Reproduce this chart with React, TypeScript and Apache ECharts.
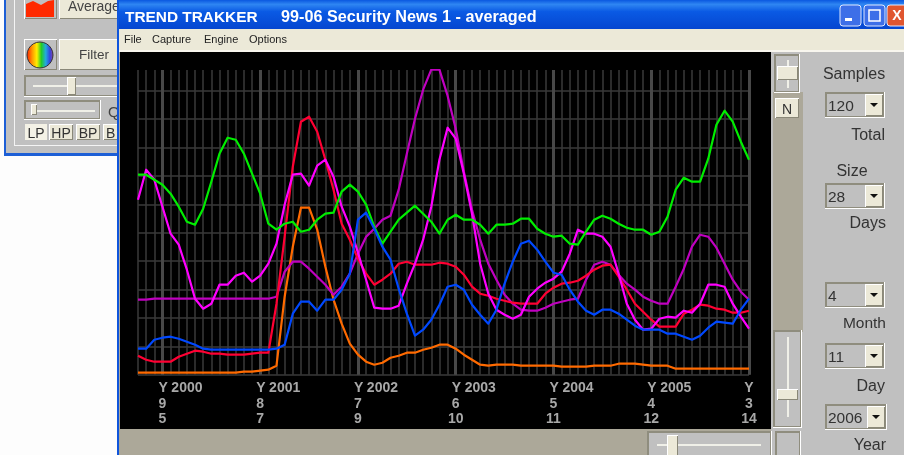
import React, { useEffect, useRef } from "react";
import * as echarts from "echarts";

const sampleCount = 76;
const yearLabels = ["Y 2000", "Y 2001", "Y 2002", "Y 2003", "Y 2004", "Y 2005", "Y"];
const monthLabels = ["9", "8", "7", "6", "5", "4", "3"];
const dayLabels = ["5", "7", "9", "10", "11", "12", "14"];

const green = [200,200,195,190,181,168,153,150,166,193,221,237,235,221,201,181,151,145,151,153,143,145,155,161,162,183,190,183,170,148,131,143,155,162,169,161,153,141,155,160,155,155,150,141,150,150,151,156,156,146,141,138,139,131,130,143,155,159,156,151,147,145,145,140,143,158,185,197,193,193,216,250,264,253,233,215];
const red = [19,15,13,13,13,18,21,24,23,21,21,20,20,20,21,22,22,71,138,208,253,258,243,215,185,151,135,116,101,90,95,101,111,113,110,110,110,112,111,108,100,88,81,79,76,74,72,71,71,71,81,87,91,92,94,99,105,109,110,98,85,71,63,55,48,48,48,61,65,70,69,66,65,62,62,64];
const magenta = [175,205,195,168,141,130,105,76,66,71,90,90,99,102,93,99,111,131,170,200,201,189,209,215,198,168,148,122,95,67,66,66,69,91,111,135,168,215,247,236,201,161,111,81,65,60,56,60,78,86,92,96,103,121,145,141,141,138,128,101,71,55,45,46,56,58,57,64,62,71,90,90,88,71,58,46];
const purple = [75,75,76,76,76,76,76,76,76,76,76,76,76,76,76,76,76,78,103,113,113,106,98,90,80,88,101,121,138,146,155,159,185,221,256,285,305,305,279,246,203,165,135,111,95,80,71,65,64,64,67,71,73,75,76,95,110,113,110,100,91,85,78,74,71,71,88,106,128,140,138,127,111,95,83,75];
const blue = [26,26,35,37,38,36,33,30,26,25,25,25,25,25,25,25,25,26,30,61,73,73,64,75,75,85,101,155,162,146,128,115,86,61,39,45,55,70,88,90,85,70,60,51,65,91,113,131,134,125,113,102,100,85,73,64,60,65,65,61,55,49,45,45,45,41,41,38,35,39,47,53,52,51,65,76];
const orange = [2,2,2,2,2,2,2,2,2,2,2,2,2,3,3,4,5,9,78,128,167,167,145,108,75,51,31,20,13,10,12,17,19,22,22,25,27,30,30,26,20,15,10,9,10,10,10,9,9,9,9,9,8,8,8,8,9,9,9,11,11,11,10,9,9,9,6,6,6,6,6,6,6,6,6,6];

const firstMajor = 3;
const majorStep = 12;
const isMajor = (i: number) => i >= firstMajor && (i - firstMajor) % majorStep === 0;
const placeLabels = (labels: string[]) => {
  const out: string[] = [];
  for (let i = 0; i < sampleCount; i++) out.push(isMajor(i) ? labels[(i - firstMajor) / majorStep] : "");
  return out;
};

const FONT = "Liberation Sans, Arial, sans-serif";
const GREY = "#c0c0c0";
const TAN = "#aca899";
const CREAM = "#ece9d8";
const LABEL = "#a8a8a8";
const BACK = -7.5;

const box = (x: number, y: number, w: number, h: number, fill: string, z = -5): any => ({
  type: "rect", z, silent: true, shape: { x, y, width: w, height: h }, style: { fill },
});
const raised = (x: number, y: number, w: number, h: number, fill = CREAM, z = -5): any[] => [
  box(x, y, w, h, "#ffffff", z),
  box(x + 1, y + 1, w - 1, h - 1, "#8a8878", z),
  box(x + 1, y + 1, w - 2, h - 2, fill, z),
];
const sunken = (x: number, y: number, w: number, h: number, fill = GREY, z = -5): any[] => [
  box(x, y, w, h, "#ffffff", z),
  box(x, y, w - 1, h - 1, "#8f8d7e", z),
  box(x + 2, y + 2, w - 4, h - 4, fill, z),
];
const label = (x: number, y: number, text: string, size = 15.5, fill = "#333333", align = "left", weight = "normal", z = -3): any => ({
  type: "text", z, silent: true,
  style: { x, y, text, fill, align, verticalAlign: "middle", font: `${weight} ${size}px ${FONT}` },
});
const combo = (x: number, y: number, w: number, value: string): any[] => [
  ...sunken(x, y, w, 26),
  ...raised(x + w - 20, y + 2, 18, 22),
  { type: "polygon", z: -3, silent: true, shape: { points: [[x + w - 15, y + 11], [x + w - 7, y + 11], [x + w - 11, y + 15]] }, style: { fill: "#111111" } },
  label(x + 3, y + 13, value, 15.5),
];

const chrome: any[] = [
  box(0, 0, 904, 455, "#fdfdfd", -9),
  // window behind
  box(4, 0, 114, 156, "#1d5fd6", -8),
  box(6, 0, 112, 153, GREY, -8),
  box(14, 0, 1, 146, "#f4f4f4", -8),
  box(15, 145, 103, 1, "#f4f4f4", -8),
  ...raised(24, -2, 33, 21, GREY, BACK),
  { type: "polygon", z: BACK, silent: true, shape: { points: [[26, 17], [26, 4], [33, 1], [41, 5], [48, 1], [54, 0], [54, 17]] }, style: { fill: "#ff2a00" } },
  ...raised(59, -2, 60, 21, CREAM, BACK),
  label(68, 6, "Average", 14, "#444444", "left", "normal", BACK),
  ...raised(24, 39, 33, 31, GREY, BACK),
  {
    type: "circle", z: BACK, silent: true, shape: { cx: 40, cy: 55, r: 13 },
    style: {
      stroke: "#333333", lineWidth: 1,
      fill: { type: "linear", x: 0, y: 0, x2: 1, y2: 0, colorStops: [
        { offset: 0, color: "#ff2200" }, { offset: 0.2, color: "#ff9900" }, { offset: 0.38, color: "#ffee00" },
        { offset: 0.55, color: "#22cc22" }, { offset: 0.72, color: "#22aadd" }, { offset: 0.88, color: "#3344dd" }, { offset: 1, color: "#8844aa" },
      ] },
    },
  },
  ...raised(59, 39, 60, 31, CREAM, BACK),
  label(79, 54, "Filter", 13.5, "#444444", "left", "normal", BACK),
  ...sunken(24, 75, 96, 22, GREY, BACK),
  box(33, 85, 85, 2, "#f0f0e8", BACK),
  ...raised(67, 77, 9, 18, CREAM, BACK),
  ...sunken(24, 100, 77, 20, GREY, BACK),
  box(33, 110, 62, 2, "#f0f0e8", BACK),
  ...raised(31, 104, 6, 11, CREAM, BACK),
  label(108, 111, "Q", 15, "#444444", "left", "normal", BACK),
  box(25, 124, 22, 16, "#f4f2e6", BACK),
  label(36, 133, "LP", 14, "#333333", "center", "normal", BACK),
  ...raised(49, 124, 24, 16, CREAM, BACK),
  label(61, 133, "HP", 14, "#333333", "center", "normal", BACK),
  ...raised(76, 124, 24, 16, CREAM, BACK),
  label(88, 133, "BP", 14, "#333333", "center", "normal", BACK),
  ...raised(103, 124, 20, 16, CREAM, BACK),
  label(106, 133, "B", 14, "#333333", "left", "normal", BACK),
  // main window
  box(117, 0, 787, 455, TAN, -7),
  {
    type: "rect", z: -6, silent: true, shape: { x: 117, y: 0, width: 787, height: 29 },
    style: { fill: { type: "linear", x: 0, y: 0, x2: 0, y2: 1, colorStops: [
      { offset: 0, color: "#0a58e0" }, { offset: 0.15, color: "#2f86f2" }, { offset: 0.4, color: "#0a5ae4" }, { offset: 1, color: "#0546d0" },
    ] } },
  },
  box(117, 0, 2, 455, "#0f55dc", -6),
  label(125, 16, "TREND TRAKKER", 15.4, "#ffffff", "left", "bold"),
  label(281, 16, "99-06 Security News 1 - averaged", 16.2, "#ffffff", "left", "bold"),
  ...[[840, "#3d6fe8"], [864, "#3d6fe8"], [887, "#e0562f"]].map(([x, fill]: any) => ({
    type: "rect", z: -5, silent: true, shape: { x, y: 5, width: 21, height: 21, r: 3 }, style: { fill, stroke: "#dfe8ff", lineWidth: 1 },
  })),
  box(845, 18, 7, 3, "#ffffff", -4),
  { type: "rect", z: -4, silent: true, shape: { x: 869, y: 10, width: 11, height: 11 }, style: { fill: "none", stroke: "#ffffff", lineWidth: 1.5 } },
  label(897, 15, "X", 14, "#ffffff", "center", "bold", -4),
  box(119, 29, 785, 21, CREAM, -6),
  label(124, 39, "File", 11, "#222222"),
  label(152, 39, "Capture", 11, "#222222"),
  label(204, 39, "Engine", 11, "#222222"),
  label(249, 39, "Options", 11, "#222222"),
  box(119, 50, 785, 2, "#f8f6ee", -6),
  box(120, 52, 651, 377, "#000000", -5),
  // right strip
  box(771, 52, 133, 403, GREY, -6),
  box(773, 92, 30, 240, TAN, -5),
  ...sunken(774, 54, 26, 39, GREY, -4),
  box(787, 60, 2, 28, "#f0f0e8", -4),
  ...raised(777, 66, 21, 14, CREAM, -3),
  ...raised(775, 98, 24, 20, CREAM, -4),
  label(787, 109, "N", 14, "#333333", "center"),
  ...sunken(773, 330, 29, 98, GREY, -4),
  box(787, 337, 2, 80, "#f0f0e8", -4),
  ...raised(777, 389, 21, 11, CREAM, -3),
  // bottom strip
  box(119, 429, 652, 26, TAN, -5),
  ...sunken(647, 431, 125, 26, GREY, -4),
  box(657, 444, 104, 2, "#f0f0e8", -4),
  ...raised(667, 435, 11, 22, CREAM, -3),
  box(773, 429, 31, 26, GREY, -5),
  ...sunken(775, 431, 26, 26, GREY, -4),
  // control panel
  label(854, 73, "Samples", 16, "#333333", "center"),
  ...combo(825, 92, 60, "120"),
  label(885, 134, "Total", 16, "#333333", "right"),
  label(852, 170, "Size", 16, "#333333", "center"),
  ...combo(825, 183, 60, "28"),
  label(886, 222, "Days", 16, "#333333", "right"),
  ...combo(825, 282, 60, "4"),
  label(886, 322, "Month", 15.5, "#333333", "right"),
  ...combo(825, 343, 60, "11"),
  label(885, 385, "Day", 16, "#333333", "right"),
  ...combo(825, 404, 62, "2006"),
  label(886, 444, "Year", 16, "#333333", "right"),
];

const lineSeries = (name: string, data: number[], color: string, width = 2.2) => ({
  name, type: "line", data, symbol: "none", smooth: false, lineStyle: { color, width, join: "round" }, itemStyle: { color }, silent: true,
});

const AXIS_FONT = { fontFamily: "Liberation Sans, Arial, sans-serif", fontSize: 14, fontWeight: "bold" as const, color: LABEL };

const labelAxis = (data: string[], margin: number, formatter?: (v: string) => string, rich?: any) => ({
  type: "category", boundaryGap: false, data, gridIndex: 0, position: "bottom",
  axisLine: { show: false }, axisTick: { show: false }, splitLine: { show: false },
  axisLabel: {
    show: true, interval: (i: number) => isMajor(i), margin, ...AXIS_FONT,
    hideOverlap: false, formatter, rich,
  },
});

export default function App() {
  const ref = useRef<HTMLDivElement>(null);
  useEffect(() => {
    document.body.style.margin = "0";
    const chart = echarts.init(ref.current!, undefined, { renderer: "svg" });
    const blanks = new Array(sampleCount).fill("");
    chart.setOption({
      animation: false,
      backgroundColor: "#fdfdfd",
      graphic: { elements: chrome },
      grid: { left: 138, top: 70, width: 611, height: 304.7, show: false, containLabel: false },
      tooltip: { show: false },
      legend: { show: false },
      xAxis: [
        {
          type: "category", boundaryGap: false, data: blanks.map((_, i) => String(i)), gridIndex: 0,
          axisLine: { show: false }, axisTick: { show: false }, axisLabel: { show: false },
          splitLine: { show: true, interval: 0, lineStyle: { color: "#3a3a3a", width: 1.5 } },
        },
        {
          type: "category", boundaryGap: false, data: blanks.map((_, i) => "m" + i), gridIndex: 0,
          axisLine: { show: false }, axisTick: { show: false }, axisLabel: { show: false },
          splitLine: { show: true, interval: (i: number) => isMajor(i), lineStyle: { color: "#484848", width: 3 } },
        },
        labelAxis(placeLabels(yearLabels), 5,
          (v: string) => (v === "Y" ? `{c|${v}}` : v ? `{p|${v}}` : ""),
          { p: { padding: [0, 0, 0, 36], ...AXIS_FONT }, c: { ...AXIS_FONT } }),
        labelAxis(placeLabels(monthLabels), 21),
        labelAxis(placeLabels(dayLabels), 36),
      ],
      yAxis: {
        type: "value", min: 0, max: 304.7, interval: 28.4, gridIndex: 0,
        axisLine: { show: false }, axisTick: { show: false }, axisLabel: { show: false },
        splitLine: { show: true, showMaxLine: false, lineStyle: { color: "#3a3a3a", width: 1.5 } },
      },
      series: [
        lineSeries("orange", orange, "#ff6a00"),
        lineSeries("purple", purple, "#c000c0"),
        lineSeries("red", red, "#ff0033"),
        lineSeries("magenta", magenta, "#ff00ff"),
        lineSeries("green", green, "#00ee00"),
        lineSeries("blue", blue, "#0048ff"),
      ],
    });
    return () => chart.dispose();
  }, []);
  return <div ref={ref} style={{ width: 904, height: 455, filter: "blur(0.4px)" }} />;
}
